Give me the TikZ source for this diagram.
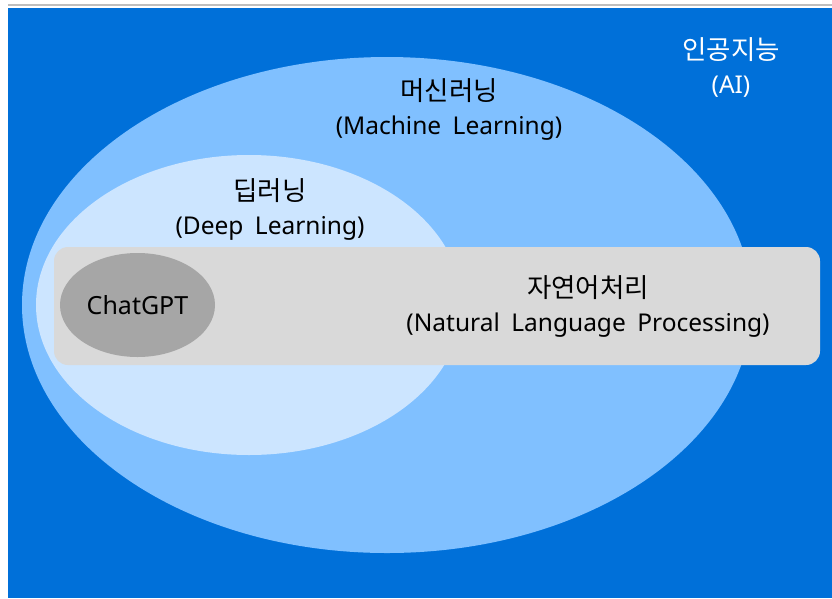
\documentclass[tikz,border=0pt]{standalone}
\usepackage{fontspec}
\setmainfont{Noto Sans CJK KR}
\newfontfamily\kofont{Noto Sans CJK KR}
\newfontfamily\enfont{Noto Sans}[WordSpace=1.8]
\usetikzlibrary{shapes.geometric}
\definecolor{aiblue}{RGB}{0,112,217}
\definecolor{mlblue}{RGB}{128,192,255}
\definecolor{dlblue}{RGB}{204,229,255}
\definecolor{nlpgray}{RGB}{217,217,217}
\definecolor{gptgray}{RGB}{166,166,166}
\definecolor{rulegray}{RGB}{190,190,190}
% Korean name on the first line, English name below it
\newcommand\pairlabel[2]{{\kofont\fontsize{26.5}{34}\selectfont #1}\\{\enfont\fontsize{24.5}{34}\selectfont #2}}
\begin{document}
\begin{tikzpicture}[x=1pt,y=-1pt,
  region/.style={ellipse,inner sep=0pt,draw=none},
  label/.style={align=center,inner sep=0pt,text=black,font=\fontsize{24}{34}\selectfont},
]
\useasboundingbox (0,0) rectangle (832,598);
% top rule and background (AI)
\fill[rulegray] (8,3.5) rectangle (832,6);
\fill[aiblue] (8,8) rectangle (832,598);
% machine learning
\node[region,fill=mlblue,minimum width=730pt,minimum height=496pt] (ml) at (387,305) {};
% deep learning
\node[region,fill=dlblue,minimum width=426pt,minimum height=300pt] (dl) at (249,305) {};
% natural language processing
\node[fill=nlpgray,rounded corners=14pt,minimum width=766pt,minimum height=118pt,inner sep=0pt] (nlp) at (437,306) {};
% ChatGPT
\node[region,fill=gptgray,minimum width=155pt,minimum height=104pt] (gpt) at (137.5,305) {};
% labels
\node[label,text=white] (ailbl) at (731,67) {\pairlabel{인공지능}{(AI)}};
\node[label] (mllbl) at (449,109) {\pairlabel{머신러닝}{(Machine Learning)}};
\node[label] (dllbl) at (270,209) {\pairlabel{딥러닝}{(Deep Learning)}};
\node[label] (nlplbl) at (588,306) {\pairlabel{자연어처리}{(Natural Language Processing)}};
\node[label,font=\enfont\fontsize{25}{28}\selectfont] (gptlbl) at (137.5,305) {ChatGPT};
\end{tikzpicture}
\end{document}
